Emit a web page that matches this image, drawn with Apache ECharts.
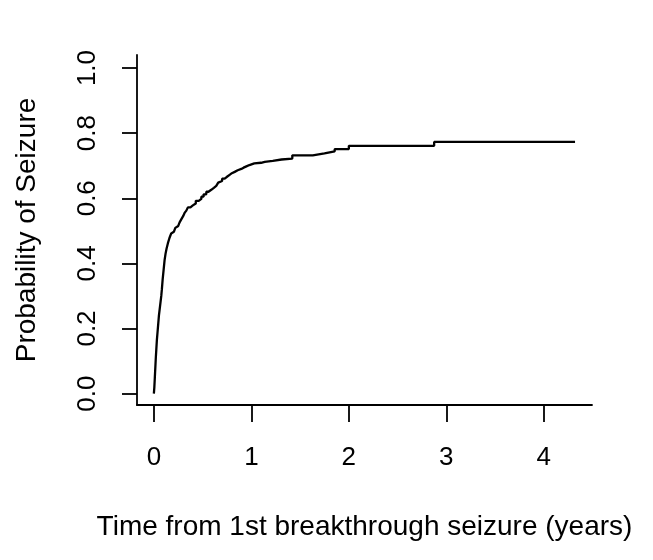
<!DOCTYPE html>
<html>
<head>
<meta charset="utf-8">
<script src="https://cdn.jsdelivr.net/npm/echarts@6/dist/echarts.min.js"></script>
<style>
html,body{margin:0;padding:0;background:#fff;}
#chart{width:653px;height:560px;}
</style>
</head>
<body>
<div id="chart"></div>
<script>
// Event times (years) and cumulative probability after each step
var times = [0, 0.005, 0.01, 0.015, 0.02, 0.025, 0.031, 0.038, 0.045, 0.052, 0.06, 0.068, 0.076, 0.082,
  0.09, 0.10, 0.11, 0.12, 0.13, 0.144, 0.16, 0.178, 0.19, 0.205, 0.22, 0.235, 0.25, 0.264, 0.281, 0.30, 0.315,
  0.333, 0.349, 0.375, 0.40, 0.43, 0.46, 0.487, 0.51, 0.538, 0.56, 0.589, 0.615, 0.64, 0.66, 0.675,
  0.70, 0.726, 0.75, 0.777, 0.80, 0.829, 0.86, 0.897, 0.92, 0.949, 0.98, 1.00, 1.03, 1.10, 1.137,
  1.22, 1.31, 1.42, 1.63, 1.75, 1.855, 2.00, 2.875, 4.32];
var probs = [0, 0.02, 0.05, 0.08, 0.11, 0.135, 0.165, 0.19, 0.215, 0.24, 0.26, 0.28, 0.30, 0.32,
  0.35, 0.38, 0.41, 0.43, 0.445, 0.462, 0.478, 0.492, 0.497, 0.503, 0.509, 0.515, 0.52, 0.526, 0.535, 0.545, 0.555,
  0.562, 0.572, 0.578, 0.584, 0.592, 0.598, 0.605, 0.612, 0.62, 0.626, 0.632, 0.638, 0.643, 0.648, 0.653,
  0.66, 0.666, 0.672, 0.677, 0.681, 0.686, 0.69, 0.694, 0.698, 0.702, 0.705, 0.707, 0.709, 0.712, 0.715,
  0.719, 0.722, 0.732, 0.738, 0.744, 0.751, 0.761, 0.773, 0.773];
var xTicks = [0, 1, 2, 3, 4];
var yTicks = [0, 0.2, 0.4, 0.6, 0.8, 1.0];
var xTitle = 'Time from 1st breakthrough seizure (years)';
var yTitle = 'Probability of Seizure';

var font = 'Liberation Sans, Arial, sans-serif';
var data = times.map(function (t, i) { return [t, probs[i]]; });

var chart = echarts.init(document.getElementById('chart'), null, {renderer: 'canvas'});
chart.setOption({
  animation: false,
  backgroundColor: '#ffffff',
  grid: {left: 137, top: 55, width: 455, height: 350, containLabel: false},
  xAxis: {
    type: 'value', min: -0.173, max: 4.494,
    name: xTitle, nameLocation: 'middle', nameGap: 108,
    nameTextStyle: {fontFamily: font, fontSize: 28, color: '#000'},
    axisLine: {show: true, onZero: false, lineStyle: {color: '#000', width: 1.8}},
    axisTick: {show: true, customValues: xTicks, length: 17, lineStyle: {color: '#000', width: 1.8}},
    axisLabel: {customValues: xTicks, margin: 40, fontFamily: font, fontSize: 26, color: '#000'},
    splitLine: {show: false}
  },
  yAxis: {
    type: 'value', min: -0.035, max: 1.04,
    name: yTitle, nameLocation: 'middle', nameGap: 96, nameRotate: 90,
    nameTextStyle: {fontFamily: font, fontSize: 28, color: '#000'},
    axisLine: {show: true, onZero: false, lineStyle: {color: '#000', width: 1.8}},
    axisTick: {show: true, customValues: yTicks, length: 15, lineStyle: {color: '#000', width: 1.8}},
    axisLabel: {customValues: yTicks, rotate: 90, margin: 36, fontFamily: font, fontSize: 26, color: '#000',
      formatter: function (v) { return v.toFixed(1); }},
    splitLine: {show: false}
  },
  series: [{
    type: 'line', step: 'end', data: data, showSymbol: false,
    lineStyle: {color: '#000', width: 2.3}
  }]
});
</script>
</body>
</html>
